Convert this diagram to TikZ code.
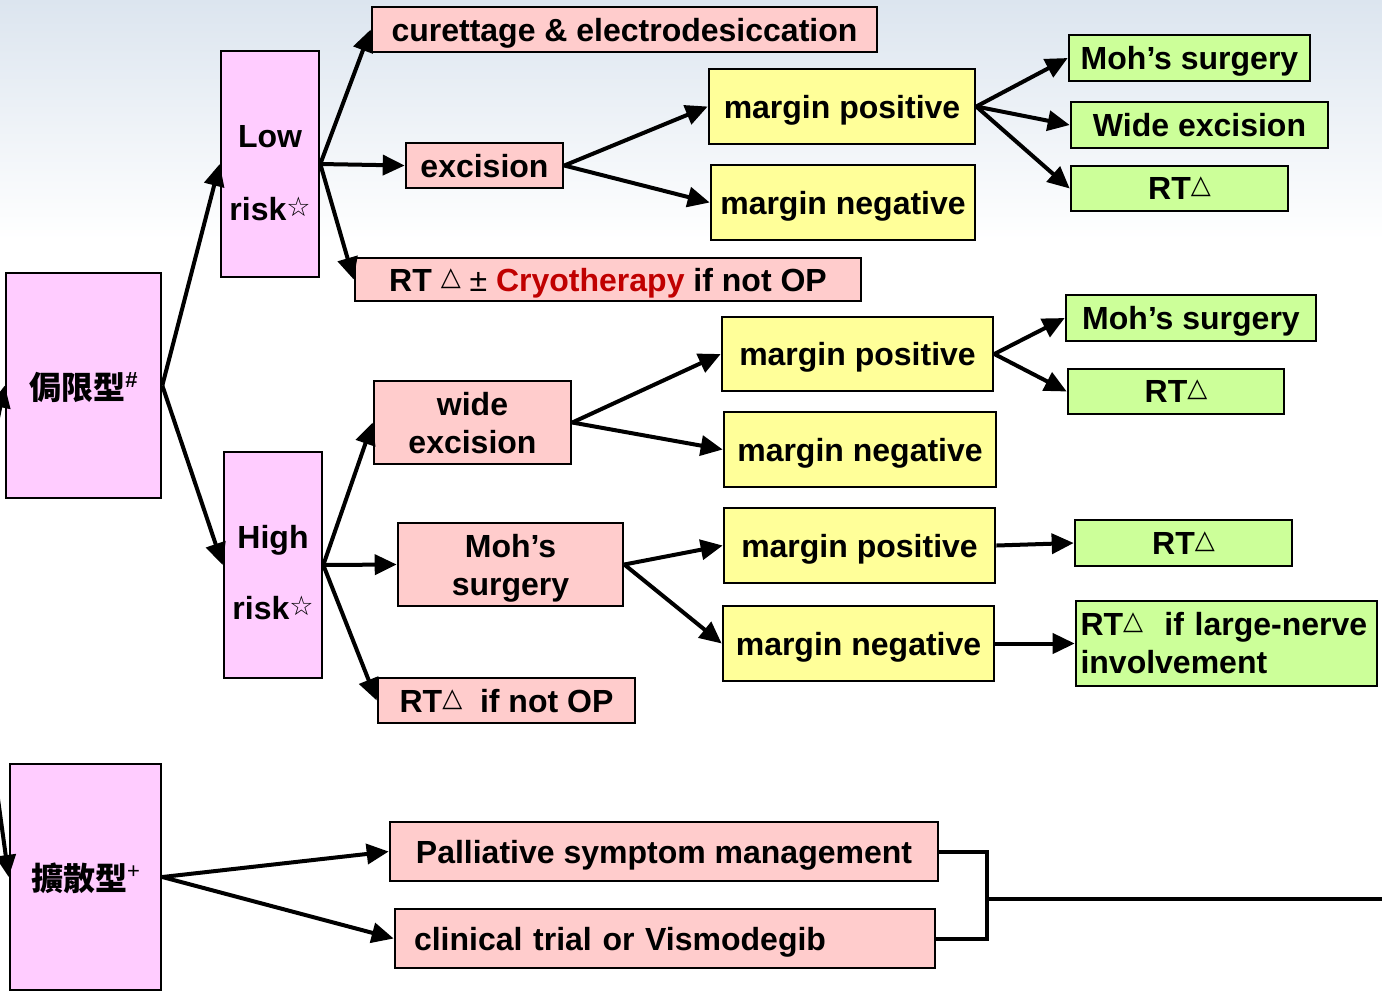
\documentclass[tikz,border=0pt]{standalone}
\usepackage{fontspec}
\setmainfont{Liberation Sans}
\newfontfamily\cjk{Noto Sans CJK TC}
\newfontfamily\symf{DejaVu Sans}
\usetikzlibrary{arrows.meta}

\definecolor{lilac}{HTML}{FFCCFF}
\definecolor{pinkc}{HTML}{FFCCCC}
\definecolor{yelc}{HTML}{FFFF99}
\definecolor{grnc}{HTML}{CCFF99}
\definecolor{redc}{HTML}{C00000}
\definecolor{skyc}{HTML}{DCE5EF}

\newcommand{\tri}{\raisebox{3pt}{\symf\mdseries\fontsize{13}{13}\selectfont △}}
\newcommand{\wstar}{\raisebox{2pt}{\symf\mdseries\fontsize{13.5}{13.5}\selectfont ☆}}
\newcommand{\supmark}[1]{\raisebox{6pt}{\rmfamily\fontsize{11}{11}\selectfont #1}}

\begin{document}
\begin{tikzpicture}[x=0.5pt, y=-0.5pt,
  box/.style={draw, line width=1.3pt, inner sep=0pt, align=center, text depth=0pt,
    font=\bfseries\fontsize{16}{19}\selectfont},
  lilacbox/.style={box, fill=lilac},
  pinkbox/.style={box, fill=pinkc},
  yelbox/.style={box, fill=yelc},
  grnbox/.style={box, fill=grnc},
  arr/.style={line width=2pt, -{Triangle[length=11pt,width=10pt]}},
  brk/.style={line width=2pt}]
  \useasboundingbox (0,0) rectangle (1382,993);
  \clip (0,0) rectangle (1382,993);
  \shade[top color=skyc, bottom color=white] (0,0) rectangle (1382,240);

  % first column
  \node[lilacbox, minimum width=77.5pt, minimum height=112.5pt] (lim) at (83.5,385.5) {\cjk 侷限型\supmark{\bfseries\#}};
  \node[lilacbox, minimum width=75.5pt, minimum height=113pt] (diff) at (85.5,877) {\cjk 擴散型\supmark{\mdseries +}};

  % risk
  \node[lilacbox, minimum width=49pt, minimum height=113pt] (low) at (270,164) {\rule{0pt}{19.5pt}Low\\[17.5pt]risk\wstar};
  \node[lilacbox, minimum width=49pt, minimum height=113pt] (high) at (273,565) {\rule{0pt}{19pt}High\\[16.5pt]risk\wstar};

  % treatment
  \node[pinkbox, minimum width=252.5pt, minimum height=22.5pt] (cur) at (624.5,29.5) {curettage \& electrodesiccation};
  \node[pinkbox, minimum width=78.5pt, minimum height=22.5pt] (exc) at (484.5,165.5) {excision};
  \node[pinkbox, minimum width=253pt, minimum height=21.5pt] (rtl) at (608,279.5) {RT \tri\ {\mdseries ±} \textcolor{redc}{Cryotherapy} if not OP};
  \node[pinkbox, minimum width=98.5pt, minimum height=41.5pt] (wexc) at (472.5,422.5) {wide\\excision};
  \node[pinkbox, minimum width=112.5pt, minimum height=41.5pt] (moh) at (510.5,564.5) {Moh’s\\surgery};
  \node[pinkbox, minimum width=128.5pt, minimum height=22.5pt] (rtn) at (506.5,700.5) {RT\tri\ \ if not OP};
  \node[pinkbox, minimum width=274pt, minimum height=29.5pt] (pal) at (664,851.5) {Palliative symptom management};
  \node[pinkbox, text width=251pt, align=left, minimum width=270pt, minimum height=29.5pt] (cli) at (665,938.5) {clinical trial or Vismodegib};

  % margins
  \node[yelbox, minimum width=133pt, minimum height=37.5pt] (mp1) at (842,106.5) {margin positive};
  \node[yelbox, minimum width=132pt, minimum height=37.5pt] (mn1) at (843,202.5) {margin negative};
  \node[yelbox, minimum width=135.5pt, minimum height=37pt] (mp2) at (857.5,354) {margin positive};
  \node[yelbox, minimum width=136pt, minimum height=37.5pt] (mn2) at (860,449.5) {margin negative};
  \node[yelbox, minimum width=135.5pt, minimum height=37.5pt] (mp3) at (859.5,545.5) {margin positive};
  \node[yelbox, minimum width=135.5pt, minimum height=37.5pt] (mn3) at (858.5,643.5) {margin negative};

  % further treatment
  \node[grnbox, minimum width=120.5pt, minimum height=23pt] (g1) at (1189.5,58) {Moh’s surgery};
  \node[grnbox, minimum width=128.5pt, minimum height=23pt] (g2) at (1199.5,125) {Wide excision};
  \node[grnbox, minimum width=108.5pt, minimum height=22.5pt] (g3) at (1179.5,188.5) {RT\tri};
  \node[grnbox, minimum width=125pt, minimum height=23pt] (g4) at (1191,318) {Moh’s surgery};
  \node[grnbox, minimum width=108pt, minimum height=22.5pt] (g5) at (1176,391.5) {RT\tri};
  \node[grnbox, minimum width=108.5pt, minimum height=23pt] (g6) at (1183.5,543) {RT\tri};
  \node[grnbox, text depth={}, text width=146pt, align=left, minimum width=150.5pt, minimum height=42.5pt] (g7) at (1226.5,643.5) {RT\tri\ \ if large-nerve\\involvement};

  % arrows
  \coordinate (inA) at (-20,505);
  \coordinate (inB) at (-6,770);
  \draw[arr] (inA) -- (lim.west);
  \draw[arr] (inB) -- (diff.west);
  \draw[arr] (lim.east) -- (low.west);
  \draw[arr] (lim.east) -- (high.west);
  \draw[arr] (low.east) -- (cur.west);
  \draw[arr] (low.east) -- (exc.west);
  \draw[arr] (low.east) -- (rtl.west);
  \draw[arr] (high.east) -- (wexc.west);
  \draw[arr] (high.east) -- (moh.west);
  \draw[arr] (high.east) -- (rtn.west);
  \draw[arr] (exc.east) -- (mp1.west);
  \draw[arr] (exc.east) -- (mn1.west);
  \draw[arr] (mp1.east) -- (g1.west);
  \draw[arr] (mp1.east) -- (g2.west);
  \draw[arr] (mp1.east) -- (g3.west);
  \draw[arr] (wexc.east) -- (mp2.west);
  \draw[arr] (wexc.east) -- (mn2.west);
  \draw[arr] (mp2.east) -- (g4.west);
  \draw[arr] (mp2.east) -- (g5.west);
  \draw[arr] (moh.east) -- (mp3.west);
  \draw[arr] (moh.east) -- (mn3.west);
  \draw[arr] (mp3.east) -- (g6.west);
  \draw[arr] (mn3.east) -- (g7.west);
  \draw[arr] (diff.east) -- (pal.west);
  \draw[arr] (diff.east) -- (cli.west);

  % bracket
  \coordinate (jn) at (987,899);
  \coordinate (out) at (1382,899);
  \draw[brk] (pal.east) -| (jn) |- (cli.east);
  \draw[brk] (jn) -- (out);
\end{tikzpicture}
\end{document}
